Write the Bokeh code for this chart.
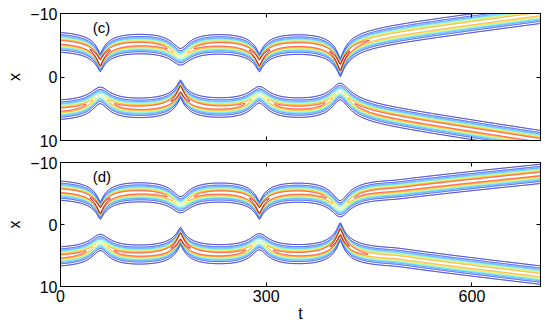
import numpy as np
from bokeh.plotting import figure
from bokeh.models import Range1d, LinearAxis, FixedTicker, Label
from bokeh.layouts import column
from bokeh.embed import file_html
from bokeh.resources import INLINE

# ---------------- values ----------------
t_ticks = [0, 300, 600]
x_ticks = [-10, 0, 10]
x_tick_labels = ["\u221210", "0", "10"]
panel_names = ["(c)", "(d)"]

collision_t = [58, 175, 290, 408]          # times of closest approach
sharp_c = ["U", "L", "U", "U"]             # soliton that spikes, panel (c)
sharp_d = ["U", "L", "U", "L"]             # soliton that spikes, panel (d)
depth_sharp_c = [3.45, 3.4, 3.35, 4.25]    # approach of the spiking soliton toward x=0
depth_mild_c = [2.45, 2.4, 2.45, 3.1]      # approach of the other soliton
depth_sharp_d = [3.45, 3.4, 3.35, 4.2]
depth_mild_d = [2.45, 2.4, 2.45, 3.15]
rest_upper = -5.85
rest_lower = 5.5
escape_start_c = [408, 425]                # (upper, lower)
escape_speed_c = [-0.0141, 0.0164]
escape_start_d = [490, 490]
escape_speed_d = [-0.0112, 0.0129]
final_peak_c = [0.85, 1.0]
final_peak_d = [1.0, 0.85]

levels = [0.07, 0.16, 0.26, 0.36, 0.46, 0.56, 0.66, 0.76, 0.88, 1.1]
level_colors = ["#0c0cd0", "#1a3cff", "#3a8aff", "#3ccfff", "#80f5d8",
                "#c4f57a", "#f8e430", "#ff9c20", "#ff3018", "#a80000"]

W0 = 0.775
t = np.linspace(0, 700, 1401)
xg = np.linspace(-12, 12, 601)


def kern(dt, a, s):
    r = np.sqrt(dt ** 2 + s ** 2) - s
    return 1.0 / (1.0 + r / a) ** 2


def soliton(side, sharp, d_sharp, d_mild, start, speed, final_peak):
    sgn = 1.0 if side == "U" else -1.0
    rest = rest_upper if side == "U" else rest_lower
    c = np.full_like(t, rest)
    P = np.ones_like(t)
    w = np.full_like(t, W0)
    for Tk, who, ds, dm in zip(collision_t, sharp, d_sharp, d_mild):
        dt = t - Tk
        if who == side:
            c += sgn * ds * kern(dt, 25, 1)
            P += 0.8 * kern(dt, 8, 1)
            w -= W0 * 0.2 * kern(dt, 12, 1)
        else:
            c += sgn * dm * kern(dt, 25, 10)
            P -= 0.45 * kern(dt, 15, 8)
    u = t - start
    c += speed * 0.5 * (u + np.sqrt(u ** 2 + 100))
    P += (final_peak - 1) * 0.5 * (1 + np.tanh((t - collision_t[-1] - 25) / 12))
    return c, P, w


def field(sharp, d_sharp, d_mild, start, speed, final_peak):
    z = np.zeros((xg.size, t.size))
    for i, side in enumerate(["U", "L"]):
        c, P, w = soliton(side, sharp, d_sharp, d_mild, start[i], speed[i], final_peak[i])
        arg = (xg[:, None] - c[None, :]) / w[None, :]
        z += P[None, :] / np.cosh(np.clip(arg, -50, 50)) ** 2
    return z


FONT = "Liberation Sans"


def hide_labels(ax):
    ax.major_label_text_font_size = "0px"
    ax.major_label_text_color = None
    ax.major_label_standoff = 0


def make_panel(z, name, bottom):
    p = figure(output_backend="svg", toolbar_location=None,
               width=545, height=176 if bottom else 151,
               x_range=Range1d(0, 700), y_range=Range1d(10, -10),
               min_border_left=60, min_border_right=5,
               min_border_top=11 if bottom else 13,
               min_border_bottom=41 if bottom else 11)
    p.grid.visible = False
    p.outline_line_color = "black"
    p.outline_line_alpha = 1
    p.contour(x=t, y=xg, z=z, levels=levels, line_color=level_colors, line_width=1)

    for ax in p.xaxis:
        ax.ticker = FixedTicker(ticks=t_ticks)
    for ax in p.yaxis:
        ax.ticker = FixedTicker(ticks=x_ticks)
        ax.major_label_overrides = {v: s for v, s in zip(x_ticks, x_tick_labels)}
        ax.axis_label = "x"
    for ax in p.xaxis + p.yaxis:
        ax.major_tick_in = 4
        ax.major_tick_out = 0
        ax.minor_tick_line_color = None
        ax.axis_line_color = "black"
        ax.major_tick_line_color = "black"
        ax.major_label_text_font = FONT
        ax.major_label_text_font_size = "16px"
        ax.major_label_text_color = "black"
        ax.axis_label_text_font = FONT
        ax.axis_label_text_font_size = "16px"
        ax.axis_label_text_font_style = "normal"
        ax.axis_label_text_color = "black"
    p.yaxis.major_label_standoff = 3
    p.yaxis.axis_label_standoff = 4
    if bottom:
        p.xaxis.axis_label = "t"
        p.xaxis.major_label_standoff = 3
        p.xaxis.axis_label_standoff = 0
    else:
        for ax in p.xaxis:
            hide_labels(ax)

    for loc, tk in (("above", t_ticks), ("right", x_ticks)):
        ax = LinearAxis(ticker=FixedTicker(ticks=tk), major_tick_in=4, major_tick_out=0,
                        minor_tick_line_color=None, axis_line_color="black")
        hide_labels(ax)
        p.add_layout(ax, loc)

    p.add_layout(Label(x=47, y=-7.8, text=name, text_font=FONT, text_font_size="15px",
                       text_baseline="middle", text_align="left", text_color="black"))
    return p


zc = field(sharp_c, depth_sharp_c, depth_mild_c, escape_start_c, escape_speed_c, final_peak_c)
zd = field(sharp_d, depth_sharp_d, depth_mild_d, escape_start_d, escape_speed_d, final_peak_d)

p1 = make_panel(zc, panel_names[0], False)
p2 = make_panel(zd, panel_names[1], True)

layout = column(p1, p2, spacing=0)
open("out.html", "w").write(file_html(layout, INLINE))
